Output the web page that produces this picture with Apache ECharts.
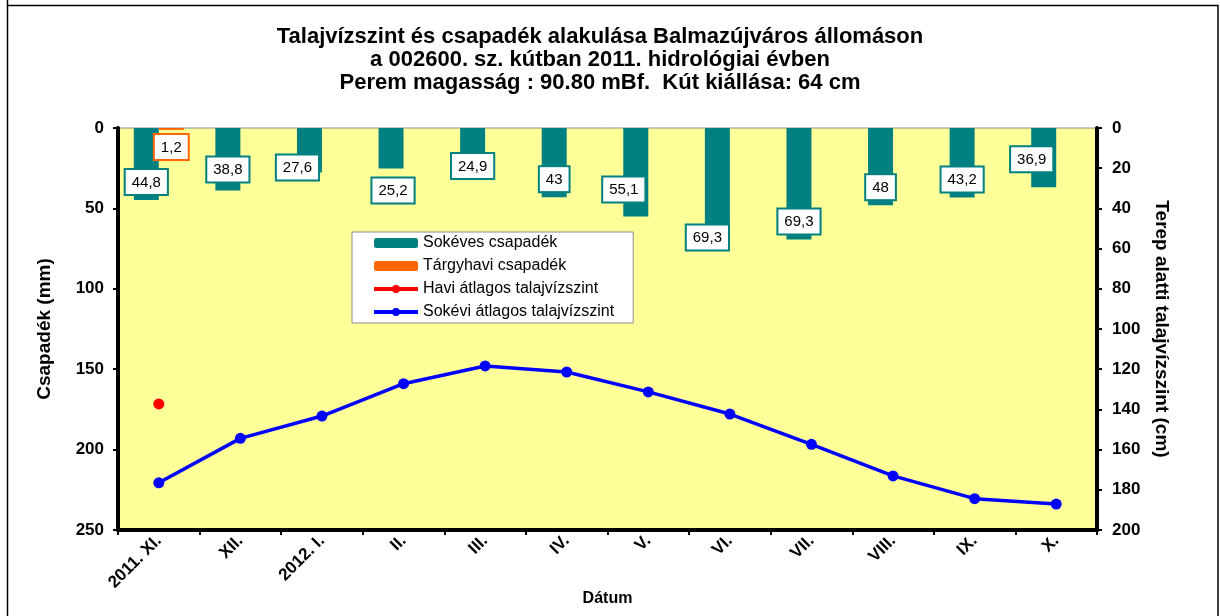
<!DOCTYPE html>
<html><head><meta charset="utf-8">
<script src="https://cdn.jsdelivr.net/npm/echarts@6/dist/echarts.min.js"></script>
<style>html,body{margin:0;padding:0;background:#fff}#c{width:1220px;height:616px}</style>
</head><body><div id="c"></div>
<script>
// ---- data ----
var categories = ['2011. XI.', 'XII.', '2012. I.', 'II.', 'III.', 'IV.', 'V.', 'VI.', 'VII.', 'VIII.', 'IX.', 'X.'];
var sokevesCsapadek = [44.8, 38.8, 27.6, 25.2, 24.9, 43, 55.1, 69.3, 69.3, 48, 43.2, 36.9];
var targyhaviCsapadek = [1.2, null, null, null, null, null, null, null, null, null, null, null];
var haviTalajviz = [137.3, null, null, null, null, null, null, null, null, null, null, null];
var sokeviTalajviz = [176.5, 154.4, 143.3, 127.2, 118.4, 121.4, 131.3, 142.3, 157.4, 173.1, 184.4, 187.1];
var leftTicks = {min: 0, max: 250, interval: 50};
var rightTicks = {min: 0, max: 200, interval: 20};

// ---- layout (label nudges, as placed in the original) ----
var labelNudge = [[0,-6],[0,-9],[-12,7],[2,34],[0,10],[0,-6],[-12,-15],[-10,10],[0,-6],[0,-6],[0,-6],[-12,-16]];

var FONT = 'Arial, "Liberation Sans", sans-serif';
function fmt(v){ return String(v).replace('.', ','); }

var labelBase = {
  show: true, position: 'insideBottom', distance: 0,
  color: '#000', fontFamily: FONT, fontSize: 15, lineHeight: 17,
  backgroundColor: '#fff', borderColor: '#008080', borderWidth: 2,
  padding: [4, 6, 3, 6],
  formatter: function(p){ return fmt(p.value); }
};

var sokevesData = sokevesCsapadek.map(function(v, i){
  return { value: v, label: { offset: labelNudge[i] } };
});

var chart = echarts.init(document.getElementById('c'), null, {renderer: 'canvas'});
chart.setOption({
  animation: false,
  backgroundColor: '#fff',
  textStyle: { fontFamily: FONT },
  title: {
    text: 'Talajvízszint és csapadék alakulása Balmazújváros állomáson\na 002600. sz. kútban 2011. hidrológiai évben\nPerem magasság : 90.80 mBf.  Kút kiállása: 64 cm',
    left: 600, top: 25, textAlign: 'center', padding: 0,
    textStyle: { fontFamily: FONT, fontSize: 22, fontWeight: 'bold', lineHeight: 23, color: '#000' }
  },
  graphic: [{
    type: 'rect', shape: { x: 7.5, y: 5.5, width: 1210.5, height: 630 },
    style: { fill: 'none', stroke: '#000', lineWidth: 1.5 }, silent: true
  }, {
    type: 'line', shape: { x1: 7.5, y1: 0, x2: 7.5, y2: 6 },
    style: { stroke: '#000', lineWidth: 1.5 }, silent: true
  }],
  legend: {
    orient: 'vertical', left: 352, top: 232,
    backgroundColor: '#fff', borderColor: '#8c8c8c', borderWidth: 1,
    padding: [3, 19, 3, 20], itemWidth: 44, itemHeight: 10, itemGap: 7,
    lineStyle: { width: 4 },
    textStyle: { fontFamily: FONT, fontSize: 16, color: '#000' },
    data: ['Sokéves csapadék', 'Tárgyhavi csapadék', 'Havi átlagos talajvízszint', 'Sokévi átlagos talajvízszint']
  },
  grid: {
    left: 118, right: 123, top: 128, bottom: 86, containLabel: false,
    outerBoundsMode: 'none',
    show: true, backgroundColor: '#FFFF99', borderColor: '#8c8c8c', borderWidth: 1
  },
  xAxis: {
    type: 'category', data: categories, boundaryGap: true,
    name: 'Dátum', nameLocation: 'middle', nameGap: 61, nameMoveOverlap: false,
    nameTextStyle: { fontFamily: FONT, fontSize: 16, fontWeight: 'bold', color: '#000' },
    axisLine: { onZero: false, lineStyle: { color: '#000', width: 4 } },
    axisTick: { show: true, alignWithLabel: false, length: 5, lineStyle: { color: '#000', width: 2 } },
    axisLabel: { rotate: 45, margin: 8, color: '#000', fontFamily: FONT, fontSize: 17, fontWeight: 'bold', interval: 0 },
    splitLine: { show: false }
  },
  yAxis: [{
    type: 'value', inverse: true, min: leftTicks.min, max: leftTicks.max, interval: leftTicks.interval,
    position: 'left',
    name: 'Csapadék (mm)', nameLocation: 'middle', nameGap: 64, nameRotate: 90,
    nameTextStyle: { fontFamily: FONT, fontSize: 19, fontWeight: 'bold', color: '#000' },
    axisLine: { show: true, lineStyle: { color: '#000', width: 4 } },
    axisTick: { show: true, length: 5, lineStyle: { color: '#000', width: 2 } },
    axisLabel: { margin: 14, color: '#000', fontFamily: FONT, fontSize: 17, fontWeight: 'bold' },
    splitLine: { show: false }
  }, {
    type: 'value', inverse: true, min: rightTicks.min, max: rightTicks.max, interval: rightTicks.interval,
    position: 'right',
    name: 'Terep alatti talajvízszint (cm)', nameLocation: 'middle', nameGap: 52, nameRotate: -90,
    nameTextStyle: { fontFamily: FONT, fontSize: 19, fontWeight: 'bold', color: '#000' },
    axisLine: { show: true, lineStyle: { color: '#000', width: 4 } },
    axisTick: { show: true, length: 5, lineStyle: { color: '#000', width: 2 } },
    axisLabel: { margin: 15, color: '#000', fontFamily: FONT, fontSize: 17, fontWeight: 'bold' },
    splitLine: { show: false }
  }],
  series: [{
    name: 'Sokéves csapadék', type: 'bar', yAxisIndex: 0,
    barWidth: 25, barGap: '0%',
    itemStyle: { color: '#008080' },
    label: labelBase,
    data: sokevesData, z: 2
  }, {
    name: 'Tárgyhavi csapadék', type: 'bar', yAxisIndex: 0,
    barWidth: 25, barGap: '0%',
    itemStyle: { color: '#FF6600' },
    label: Object.assign({}, labelBase, { position: 'bottom', distance: 5, borderColor: '#FF6600' }),
    data: targyhaviCsapadek, z: 2
  }, {
    name: 'Havi átlagos talajvízszint', type: 'line', yAxisIndex: 1,
    symbol: 'circle', symbolSize: 11,
    itemStyle: { color: '#FF0000' }, lineStyle: { color: '#FF0000', width: 3.5 },
    data: haviTalajviz, z: 4
  }, {
    name: 'Sokévi átlagos talajvízszint', type: 'line', yAxisIndex: 1,
    symbol: 'circle', symbolSize: 11,
    itemStyle: { color: '#0000FF' }, lineStyle: { color: '#0000FF', width: 3.5 },
    data: sokeviTalajviz, z: 4
  }]
});
</script>
</body></html>
